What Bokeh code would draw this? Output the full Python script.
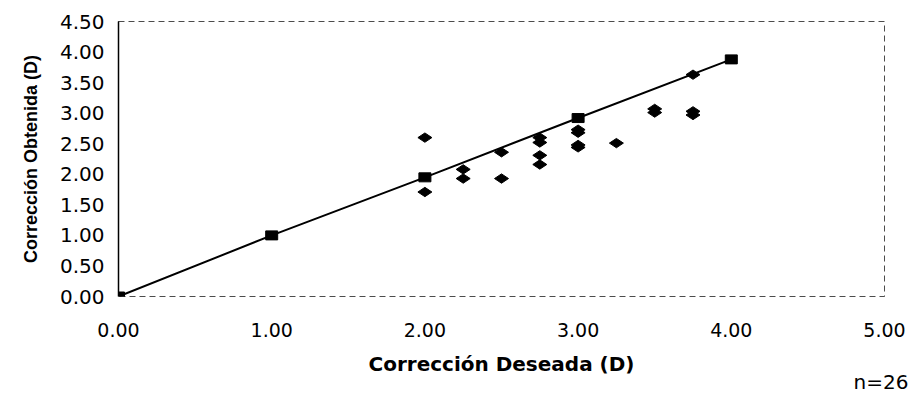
from bokeh.plotting import figure
from bokeh.models import FixedTicker, NumeralTickFormatter, Range1d, Title
from bokeh.embed import file_html
from bokeh.resources import INLINE
import math

# Line series (squares): desired vs obtained correction
line_x = [0.0, 1.0, 2.0, 3.0, 4.0]
line_y = [0.0, 1.0, 1.95, 2.92, 3.88]

# Individual eyes (diamonds)
pts_x = [2.0, 2.0, 2.25, 2.25, 2.5, 2.5, 2.75, 2.75, 2.75, 2.75,
         3.0, 3.0, 3.0, 3.0, 3.25, 3.5, 3.5, 3.75, 3.75, 3.75]
pts_y = [2.60, 1.71, 2.08, 1.93, 2.36, 1.93, 2.60, 2.52, 2.31, 2.16,
         2.73, 2.68, 2.48, 2.44, 2.51, 3.07, 3.01, 3.63, 3.03, 2.97]

x_ticks = [0, 1, 2, 3, 4, 5]
y_ticks = [0, 0.5, 1.0, 1.5, 2.0, 2.5, 3.0, 3.5, 4.0, 4.5]

x_title = "Corrección Deseada (D)"
y_title = "Corrección Obtenida (D)"
note = "n=26"

p = figure(width=912, height=392, output_backend="svg", toolbar_location=None,
           x_range=Range1d(0, 5), y_range=Range1d(0, 4.5))
p.min_border_left = 118
p.min_border_right = 28
p.min_border_top = 21
p.min_border_bottom = 96
p.background_fill_color = "white"
p.border_fill_color = "white"
p.grid.visible = False
p.outline_line_color = "black"
p.outline_line_dash = "6 4"
p.outline_line_width = 1
p.outline_line_alpha = 0.7

tick_font = "DejaVu Sans"

xa = p.xaxis[0]
xa.ticker = FixedTicker(ticks=x_ticks)
xa.formatter = NumeralTickFormatter(format="0.00")
xa.axis_line_color = None
xa.major_tick_line_color = None
xa.minor_tick_line_color = None
xa.major_label_text_font = tick_font
xa.major_label_text_font_size = "19px"
xa.major_label_text_color = "black"
xa.major_label_standoff = 20
xa.axis_label = x_title
xa.axis_label_text_font = "DejaVu Sans"
xa.axis_label_text_font_style = "bold"
xa.axis_label_text_font_size = "20px"
xa.axis_label_text_color = "black"
xa.axis_label_standoff = 12

ya = p.yaxis[0]
ya.ticker = FixedTicker(ticks=y_ticks)
ya.formatter = NumeralTickFormatter(format="0.00")
ya.axis_line_color = "black"
ya.axis_line_width = 1.5
ya.major_tick_line_color = None
ya.minor_tick_line_color = None
ya.major_label_text_font = tick_font
ya.major_label_text_font_size = "20px"
ya.major_label_text_color = "black"
ya.major_label_standoff = 8
ya.axis_label = y_title
ya.axis_label_text_font = "Liberation Sans"
ya.axis_label_text_font_style = "bold"
ya.axis_label_text_font_size = "18px"
ya.axis_label_text_color = "black"
ya.axis_label_standoff = 16

p.line(line_x, line_y, line_color="black", line_width=2)
p.rect(line_x, line_y, width=12, height=9, width_units="screen",
       height_units="screen", fill_color="black", line_color="black")
p.scatter(pts_x, pts_y, marker="diamond", size=14, angle=math.pi / 2,
          fill_color="black", line_color="black")

p.add_layout(Title(text=note, align="right", offset=-24, standoff=-22,
                   text_font="DejaVu Sans", text_font_size="20px",
                   text_font_style="normal", text_color="black"), "below")

open("out.html", "w").write(file_html(p, INLINE))
